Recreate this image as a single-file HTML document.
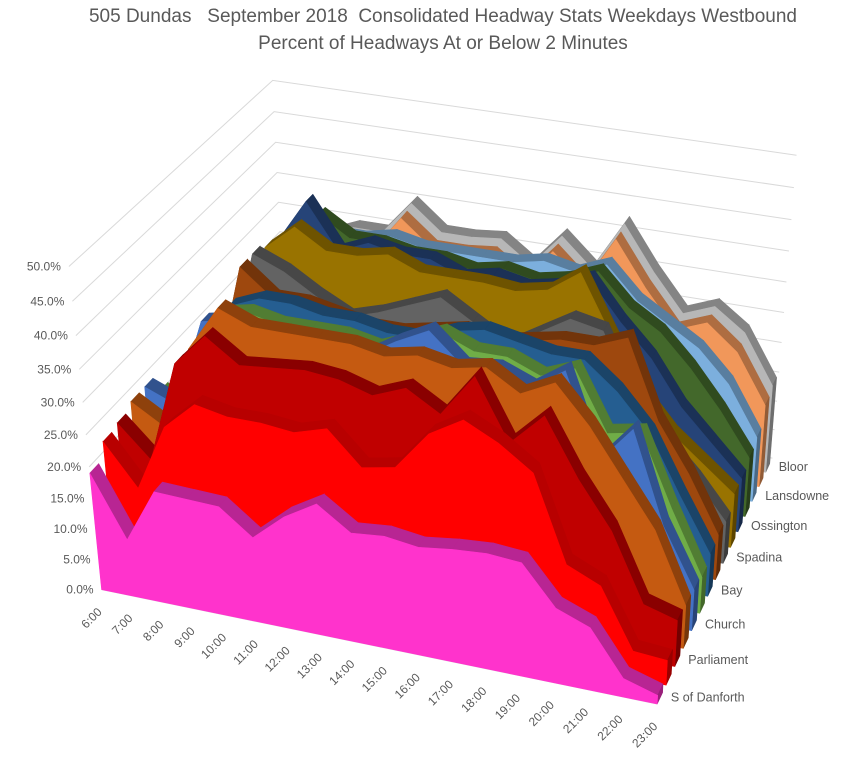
<!DOCTYPE html>
<html><head><meta charset="utf-8"><style>
html,body{margin:0;padding:0;background:#fff;}
svg text{font-family:"Liberation Sans",sans-serif;fill:#595959;}
</style></head><body>
<svg id="chart" width="851" height="755" viewBox="0 0 851 755" xmlns="http://www.w3.org/2000/svg">
<text x="443" y="22" text-anchor="middle" font-size="19" style="white-space:pre">505 Dundas   September 2018  Consolidated Headway Stats Weekdays Westbound</text>
<text x="443" y="49" text-anchor="middle" font-size="19">Percent of Headways At or Below 2 Minutes</text>
<g id="grid"></g>
<g id="series"></g>
<g id="labels"></g>
</svg>
<script>
const categories = ["6:00","7:00","8:00","9:00","10:00","11:00","12:00","13:00","14:00","15:00","16:00","17:00","18:00","19:00","20:00","21:00","22:00","23:00"];
const seriesNames = ["S of Danforth","Broadview","Parliament","Sherbourne","Church","Yonge","Bay","University","Spadina","Bathurst","Ossington","Dufferin","Lansdowne","Roncesvalles","Bloor"];
const valueTicks = [0,5,10,15,20,25,30,35,40,45,50];
const s0 = [19,9.3,18,17.8,17.6,13.7,18,21,17.5,18,17.3,18,18.4,18,12,10,3,1.4];
const s1 = [21.5,15,25.6,30,29,29,28.5,30,25,26,32,35,32.5,29,16,13.7,4.4,4];
const s2 = [22,17,33,38,34.5,35,35.5,35,33.5,35.5,32.5,39,30,35,26.5,19.5,9,7.5];
const s3 = [23,20,33,40,38,38,38,38,37,38,37,38,35,37.5,32,25,18,7];
const s4 = [23,21,35,36,35,35,35,34,37,39.5,35,35.5,33.5,37,24,30,16,6.7];
const s5 = [20,17,34,35,34,34,34,33,35,37,35,35,33,35,26,27,16,6];
const s6 = [18,17,33,35,35,34,34,33,33,35,36,35,34,34,30,24.5,15.5,7];
const s7 = [19,18,37,33,33,32,31,31,32,33,32,33,34,34,36,24,16.5,7.5];
const s8 = [19,18,37,35,32,29.5,31,33,35,32,29,32,35,34,24,18,13,7];
const s9 = [20,19,36,40,37,37,38,36,36,36,35.5,36.5,40,31,22.6,17,13,9];
const s10 = [20,19,35,42,35,37,36,36,34,35,34,35,37,31,26,19,14,9];
const s11 = [20,19,33,38,35,35,34,34,33,34,33,34,36,31,28,23,17,10];
const s12 = [20,19,30,33,33,34,33,33,33,33,34,33,35,30,27,24,19,11];
const s13 = [20,19,27,29,29,35,31,31,31.5,28,33.5,29,37,30,24,26,22,14];
const s14 = [21,20,28,30,30,35.5,31.5,31.5,32,28.5,34,29.5,37.5,30.5,24.5,26.5,23,15];
const seriesValues = [s0,s1,s2,s3,s4,s5,s6,s7,s8,s9,s10,s11,s12,s13,s14];
const colors = ["#FF33CC","#FF0000","#C00000","#C55A11","#4472C4","#70AD47","#255E91","#9E480E","#636363","#997300","#264478","#43682B","#7CAFDD","#F1975A","#B7B7B7"];

const calib = [
 [0,0,0,99,584],[17,0,0,655,707],[0,50,0,70,269],[0,25,0,83,435],
 [0,0,15,287,378],[0,50,15,273,81],[0,25,15,280,228],
 [17,0,15,772,457],[17,50,15,797,155],[17,25,15,783,311],[8,0,0,361,642]
];
function solveCamera(){
  const A=[],b=[];
  calib.forEach(c=>{
    const X=c[0]/17,Y=c[1]/50,Z=c[2]/15,u=c[3]/800,v=c[4]/800;
    A.push([X,Y,Z,1,0,0,0,0,-u*X,-u*Y,-u*Z]);b.push(u);
    A.push([0,0,0,0,X,Y,Z,1,-v*X,-v*Y,-v*Z]);b.push(v);
  });
  const n=11,M=[];
  for(let r=0;r<n;r++){M.push([]);for(let c=0;c<=n;c++){let s=0;for(let k=0;k<A.length;k++)s+=A[k][r]*(c<n?A[k][c]:b[k]);M[r].push(s);}}
  for(let c=0;c<n;c++){let p=c;for(let r=c+1;r<n;r++)if(Math.abs(M[r][c])>Math.abs(M[p][c]))p=r;
    [M[c],M[p]]=[M[p],M[c]];
    for(let r=0;r<n;r++){if(r===c)continue;const f=M[r][c]/M[c][c];for(let k=c;k<=n;k++)M[r][k]-=f*M[c][k];}}
  return M.map((row,i)=>row[n]/row[i]);
}
const P=solveCamera();
function proj(i,val,d){
  const X=i/17,Y=val/50,Z=d/15;
  const w=P[8]*X+P[9]*Y+P[10]*Z+1;
  return [800*(P[0]*X+P[1]*Y+P[2]*Z+P[3])/w, 800*(P[4]*X+P[5]*Y+P[6]*Z+P[7])/w];
}
function shade(hex,f){
  const n=parseInt(hex.slice(1),16);
  const r=Math.round(((n>>16)&255)*f),g=Math.round(((n>>8)&255)*f),b=Math.round((n&255)*f);
  return "rgb("+r+","+g+","+b+")";
}
const NS="http://www.w3.org/2000/svg";
function pts(a){return a.map(p=>p[0].toFixed(1)+","+p[1].toFixed(1)).join(" ");}

const grid=document.getElementById("grid");
valueTicks.forEach(t=>{
  const a=proj(0,t,0),b=proj(0,t,15),c=proj(17,t,15);
  const pl=document.createElementNS(NS,"polyline");
  pl.setAttribute("points",pts([a,b,c]));
  pl.setAttribute("fill","none");pl.setAttribute("stroke","#d9d9d9");pl.setAttribute("stroke-width","1");
  
  
  grid.appendChild(pl);
});
{
  const a=proj(0,0,0),b=proj(17,0,0);
  const ln=document.createElementNS(NS,"line");
  ln.setAttribute("x1",a[0]);ln.setAttribute("y1",a[1]);ln.setAttribute("x2",b[0]);ln.setAttribute("y2",b[1]);
  ln.setAttribute("stroke","#d9d9d9");
  
  
  grid.appendChild(ln);
}

const sg=document.getElementById("series");
const DEPTH=0.6;
for(let s=seriesValues.length-1;s>=0;s--){
  const vals=seriesValues[s],d0=s,d1=s+DEPTH,col=colors[s];
  const g=document.createElementNS(NS,"g");
  
  
  for(let i=0;i<vals.length-1;i++){
    const q=[proj(i,vals[i],d0),proj(i+1,vals[i+1],d0),proj(i+1,vals[i+1],d1),proj(i,vals[i],d1)];
    const p=document.createElementNS(NS,"polygon");
    p.setAttribute("points",pts(q));
    p.setAttribute("fill",shade(col,0.72));p.setAttribute("stroke",shade(col,0.72));p.setAttribute("stroke-width","0.6");
    
    
    g.appendChild(p);
  }
  const L=vals.length-1;
  const e=document.createElementNS(NS,"polygon");
  e.setAttribute("points",pts([proj(L,0,d0),proj(L,vals[L],d0),proj(L,vals[L],d1),proj(L,0,d1)]));
  e.setAttribute("fill",shade(col,0.6));e.setAttribute("stroke",shade(col,0.6));e.setAttribute("stroke-width","0.6");
  
  
  g.appendChild(e);
  const front=[proj(0,0,d0)];
  vals.forEach((v,i)=>front.push(proj(i,v,d0)));
  front.push(proj(L,0,d0));
  const f=document.createElementNS(NS,"polygon");
  f.setAttribute("points",pts(front));
  f.setAttribute("fill",col);f.setAttribute("stroke",col);f.setAttribute("stroke-width","0.6");
  
  
  g.appendChild(f);
  sg.appendChild(g);
}

const lg=document.getElementById("labels");
valueTicks.forEach(t=>{
  const p=proj(0,t,0);
  const tx=document.createElementNS(NS,"text");
  tx.setAttribute("x",(p[0]-8).toFixed(1));tx.setAttribute("y",(p[1]+4).toFixed(1));
  tx.setAttribute("text-anchor","end");tx.setAttribute("font-size","12");
  tx.textContent=t.toFixed(1)+"%";
  
  
  lg.appendChild(tx);
});
categories.forEach((c,i)=>{
  const p=proj(i,0,0);
  const x=p[0]+1,y=p[1]+23;
  const tx=document.createElementNS(NS,"text");
  tx.setAttribute("x",x.toFixed(1));tx.setAttribute("y",y.toFixed(1));
  tx.setAttribute("text-anchor","end");tx.setAttribute("font-size","12");
  tx.setAttribute("transform","rotate(-45 "+x.toFixed(1)+" "+y.toFixed(1)+")");
  tx.textContent=c;
  
  
  lg.appendChild(tx);
});
seriesNames.forEach((n,s)=>{
  if(s%2) return;
  const p=proj(17,0,s+0.3);
  const tx=document.createElementNS(NS,"text");
  tx.setAttribute("x",(p[0]+11).toFixed(1));tx.setAttribute("y",(p[1]+3).toFixed(1));
  tx.setAttribute("font-size","12.5");
  tx.textContent=n;
  
  
  lg.appendChild(tx);
});
</script>
</body></html>
